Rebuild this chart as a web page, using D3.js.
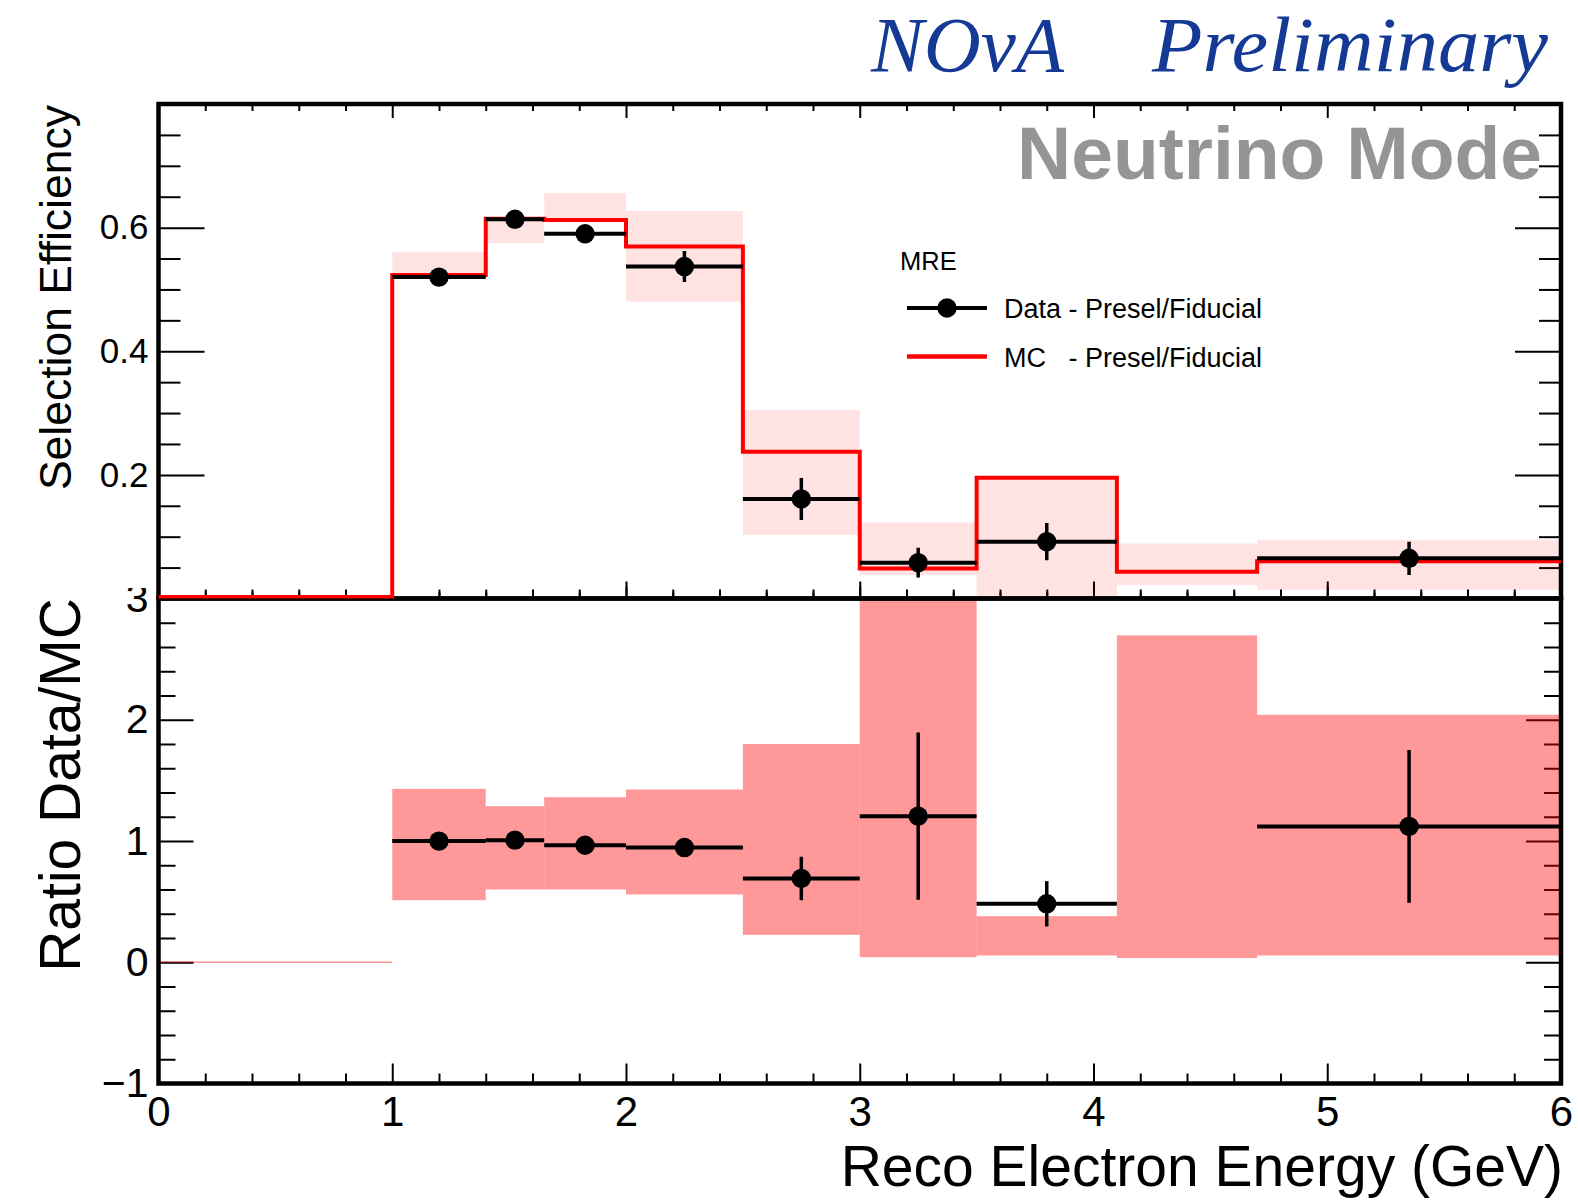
<!DOCTYPE html>
<html>
<head>
<meta charset="utf-8">
<script src="https://cdn.jsdelivr.net/npm/d3@7"></script>
<style>
  html, body { margin: 0; padding: 0; background: #fff; }
  svg { display: block; }
</style>
</head>
<body>
<svg id="chart" width="1578" height="1203"></svg>
<script>
// Bin edges in reconstructed electron energy (GeV)
const binEdges = [0, 1, 1.4, 1.65, 2, 2.5, 3, 3.5, 4.1, 4.7, 6];

// MC selection efficiency and its uncertainty band (low / high)
const mcEff    = [0, 0.521, 0.612, 0.610, 0.567, 0.235, 0.046, 0.193, 0.041, 0.058];
const mcBandLo = [0, 0.521, 0.575, 0.610, 0.480, 0.103, 0.038, 0.000, 0.022, 0.014];
const mcBandHi = [0, 0.561, 0.614, 0.656, 0.627, 0.305, 0.123, 0.195, 0.089, 0.095];

// Data selection efficiency with statistical error (null = no data point)
const dataEff    = [null, 0.520, 0.6135, 0.590, 0.537, 0.161, 0.058, 0.092, null, 0.065];
const dataEffErr = [null, 0.008, 0.008, 0.008, 0.025, 0.034, 0.024, 0.030, null, 0.027];

// Data/MC ratio, its error, and the MC uncertainty band on the ratio
const ratio       = [null, 0.999, 1.007, 0.965, 0.946, 0.691, 1.205, 0.482, null, 1.120];
const ratioErr    = [null, 0.015, 0.015, 0.015, 0.020, 0.179, 0.690, 0.187, null, 0.630];
const ratioBandLo = [0, 0.512, 0.600, 0.600, 0.559, 0.226, 0.042, 0.056, 0.035, 0.056];
const ratioBandHi = [0, 1.430, 1.287, 1.361, 1.425, 1.800, 3.300, 0.380, 2.696, 2.041];

// Axis ticks
const xMajor = [0, 1, 2, 3, 4, 5, 6];
const xMinor = d3.range(0, 31).map(i => i * 0.2);
const effMajor = [0, 0.2, 0.4, 0.6];
const effLabels = ["", "0.2", "0.4", "0.6"];
const effMinor = d3.range(0, 17).map(i => i * 0.05);
const ratioMajor = [-1, 0, 1, 2, 3];
const ratioLabels = ["\u22121", "0", "1", "2", "3"];
const ratioMinor = d3.range(0, 21).map(i => -1 + i * 0.2);

const SANS = '"Liberation Sans", Arial, Helvetica, sans-serif';
const SERIF = '"Liberation Serif", "Times New Roman", Times, serif';

const svg = d3.select("#chart").style("font-family", SANS);

const left = 158.5, right = 1561;
const topY = 104, midY = 598.5, botY = 1083.5;

const x = d3.scaleLinear().domain([0, 6]).range([left, right]);
const yTop = d3.scaleLinear().domain([0, 0.8]).range([midY, topY]);
const yRat = d3.scaleLinear().domain([-1, 3]).range([botY, midY]);

const near = (a, list) => list.some(b => Math.abs(a - b) < 1e-6);

// Draw one side of an axis: minor ticks then major ticks (lengths inward)
function drawAxis(maker, scale, translate, majors, minors, majLen, minLen, labels, fontSize) {
  const g = svg.append("g").attr("transform", translate);
  const minorVals = minors.filter(v => !near(v, majors));
  g.append("g").call(maker(scale).tickValues(minorVals).tickFormat("").tickSize(-minLen));
  const ax = maker(scale).tickValues(majors).tickSize(-majLen).tickPadding(10)
    .tickFormat(labels ? ((d, i) => labels[i]) : "");
  const gm = g.append("g").call(ax);
  g.selectAll(".domain").remove();
  g.selectAll(".tick line").attr("stroke", "#000").attr("stroke-width", 2);
  gm.selectAll(".tick text").attr("font-size", fontSize).attr("fill", "#000")
    .style("font-family", SANS);
  return gm;
}

// Clip for the ratio "3" label, which sits partly under the upper pad
svg.append("clipPath").attr("id", "clipLabel3").append("rect")
  .attr("x", -160).attr("y", -11).attr("width", 160).attr("height", 80);

// Upper panel ticks
drawAxis(d3.axisLeft, yTop, `translate(${left},0)`, effMajor, effMinor, 46, 22, effLabels, 35);
drawAxis(d3.axisRight, yTop, `translate(${right},0)`, effMajor, effMinor, 46, 22, null);
drawAxis(d3.axisTop, x, `translate(0,${topY})`, xMajor, xMinor, 14, 7, null);
drawAxis(d3.axisBottom, x, `translate(0,${midY})`, xMajor, xMinor, 12, 6, null);

// Lower panel ticks
const ratioLeft = drawAxis(d3.axisLeft, yRat, `translate(${left},0)`, ratioMajor, ratioMinor, 35, 17, ratioLabels, 41);
drawAxis(d3.axisRight, yRat, `translate(${right},0)`, ratioMajor, ratioMinor, 35, 17, null);
drawAxis(d3.axisTop, x, `translate(0,${midY})`, xMajor, xMinor, -17, -9, null);
const xb = drawAxis(d3.axisBottom, x, `translate(0,${botY})`, xMajor, xMinor, 20, 10, xMajor.map(String), 42);
xb.selectAll(".tick text").attr("dy", "0.71em").attr("y", 13);

ratioLeft.selectAll(".tick").filter(d => d === 3).select("text")
  .attr("clip-path", "url(#clipLabel3)");

// Clip regions for each panel's contents
svg.append("clipPath").attr("id", "clipTop").append("rect")
  .attr("x", left - 2).attr("y", topY).attr("width", right - left + 4).attr("height", midY - topY);
svg.append("clipPath").attr("id", "clipRat").append("rect")
  .attr("x", left - 2).attr("y", midY).attr("width", right - left + 4).attr("height", botY - midY);

const bins = d3.range(binEdges.length - 1).map(i => ({
  i, x0: binEdges[i], x1: binEdges[i + 1], xc: (binEdges[i] + binEdges[i + 1]) / 2
}));

// Uncertainty bands (drawn beneath the frames)
const bandTop = svg.append("g").attr("clip-path", "url(#clipTop)");
const bandRat = svg.append("g").attr("clip-path", "url(#clipRat)");

bandTop.selectAll("rect").data(bins.filter(b => mcBandHi[b.i] > mcBandLo[b.i])).join("rect")
  .attr("x", b => x(b.x0)).attr("width", b => x(b.x1) - x(b.x0))
  .attr("y", b => yTop(mcBandHi[b.i]))
  .attr("height", b => yTop(mcBandLo[b.i]) - yTop(mcBandHi[b.i]))
  .attr("fill", "#ff0000").attr("fill-opacity", 0.11);

bandRat.selectAll("rect").data(bins).join("rect")
  .attr("x", b => x(b.x0)).attr("width", b => x(b.x1) - x(b.x0))
  .attr("y", b => yRat(ratioBandHi[b.i]) - (ratioBandHi[b.i] === ratioBandLo[b.i] ? 0.75 : 0))
  .attr("height", b => Math.max(1.5, yRat(ratioBandLo[b.i]) - yRat(ratioBandHi[b.i])))
  .attr("fill", "#ff0000").attr("fill-opacity", 0.4);

// Frames
svg.append("rect").attr("x", left).attr("y", topY).attr("width", right - left).attr("height", midY - topY)
  .attr("fill", "none").attr("stroke", "#000").attr("stroke-width", 4.5);
svg.append("rect").attr("x", left).attr("y", midY).attr("width", right - left).attr("height", botY - midY)
  .attr("fill", "none").attr("stroke", "#000").attr("stroke-width", 4.5);

// Histogram and points (drawn above the frames)
const gTop = svg.append("g").attr("clip-path", "url(#clipTop)");
const gRat = svg.append("g").attr("clip-path", "url(#clipRat)");

// MC step histogram
const stepPts = [];
bins.forEach(b => { stepPts.push([b.x0, mcEff[b.i]]); stepPts.push([b.x1, mcEff[b.i]]); });
gTop.append("path")
  .attr("d", d3.line().x(d => x(d[0])).y(d => yTop(d[1]) - 1.5)(stepPts))
  .attr("fill", "none").attr("stroke", "#ff0000").attr("stroke-width", 4);

// Data points with error bars
function drawPoints(g, yScale, vals, errs) {
  const pts = bins.filter(b => vals[b.i] !== null);
  g.selectAll("line.xerr").data(pts).join("line").attr("class", "xerr")
    .attr("x1", b => x(b.x0)).attr("x2", b => x(b.x1))
    .attr("y1", b => yScale(vals[b.i])).attr("y2", b => yScale(vals[b.i]))
    .attr("stroke", "#000").attr("stroke-width", 4);
  g.selectAll("line.yerr").data(pts).join("line").attr("class", "yerr")
    .attr("x1", b => x(b.xc)).attr("x2", b => x(b.xc))
    .attr("y1", b => yScale(vals[b.i] - errs[b.i])).attr("y2", b => yScale(vals[b.i] + errs[b.i]))
    .attr("stroke", "#000").attr("stroke-width", 3.5);
  g.selectAll("circle.pt").data(pts).join("circle").attr("class", "pt")
    .attr("cx", b => x(b.xc)).attr("cy", b => yScale(vals[b.i])).attr("r", 9.7)
    .attr("fill", "#000");
}
drawPoints(gTop, yTop, dataEff, dataEffErr);
drawPoints(gRat, yRat, ratio, ratioErr);

// Axis titles
svg.append("text").attr("transform", "translate(71,105) rotate(-90)")
  .attr("text-anchor", "end").attr("font-size", 44.5).text("Selection Efficiency");
svg.append("text").attr("transform", "translate(80,598) rotate(-90)")
  .attr("text-anchor", "end").attr("font-size", 57).text("Ratio Data/MC");
svg.append("text").attr("x", 1563).attr("y", 1186)
  .attr("text-anchor", "end").attr("font-size", 57).text("Reco Electron Energy (GeV)");

// Header texts
svg.append("text").attr("x", 871).attr("y", 71)
  .style("font-family", SERIF).style("font-style", "italic")
  .attr("font-size", 79).attr("fill", "#143a96").text("NO\u03BDA");
svg.append("text").attr("x", 1152).attr("y", 71)
  .style("font-family", SERIF).style("font-style", "italic")
  .attr("font-size", 79).attr("fill", "#143a96")
  .attr("textLength", 396).attr("lengthAdjust", "spacingAndGlyphs").text("Preliminary");
svg.append("text").attr("x", 1542).attr("y", 179)
  .attr("text-anchor", "end").attr("font-weight", "bold").attr("font-size", 75)
  .attr("fill", "#959595").text("Neutrino Mode");

// Legend
const legend = svg.append("g");
legend.append("text").attr("x", 900).attr("y", 270).attr("font-size", 25.5).text("MRE");
legend.append("line").attr("x1", 907).attr("x2", 987).attr("y1", 308).attr("y2", 308)
  .attr("stroke", "#000").attr("stroke-width", 4);
legend.append("circle").attr("cx", 947).attr("cy", 308).attr("r", 9.7).attr("fill", "#000");
legend.append("text").attr("x", 1004).attr("y", 317.5).attr("font-size", 27)
  .attr("xml:space", "preserve").style("white-space", "pre").text("Data - Presel/Fiducial");
legend.append("line").attr("x1", 907).attr("x2", 987).attr("y1", 356.5).attr("y2", 356.5)
  .attr("stroke", "#ff0000").attr("stroke-width", 4.5);
legend.append("text").attr("x", 1004).attr("y", 366.5).attr("font-size", 27)
  .attr("xml:space", "preserve").style("white-space", "pre").text("MC   - Presel/Fiducial");
</script>
</body>
</html>
